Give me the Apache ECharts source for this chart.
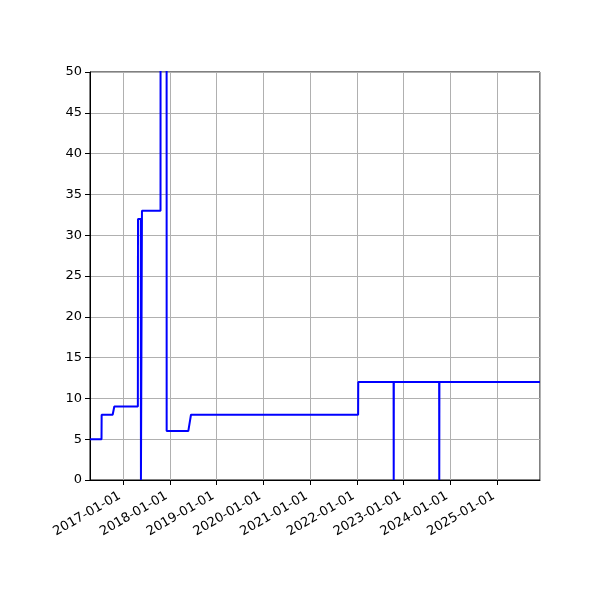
<!DOCTYPE html>
<html><head><meta charset="utf-8">
<script src="https://cdn.jsdelivr.net/npm/echarts@6/dist/echarts.min.js"></script>
<style>html,body{margin:0;padding:0;background:#fff}#c{width:600px;height:600px}</style>
</head><body><div id="c"></div>
<script>
// Sample dates and values (value > 50 is off the top)
const dates = [
  '2016-04-16','2016-07-15','2016-07-16','2016-10-10','2016-10-23',
  '2017-04-25','2017-04-26','2017-05-08','2017-05-18','2017-05-19','2017-05-27',
  '2017-10-19','2017-10-20','2017-12-05','2017-12-06',
  '2018-05-24','2018-06-14',
  '2022-01-10','2022-01-11',
  '2022-10-14','2022-10-15','2022-10-16',
  '2023-10-05','2023-10-06','2023-10-07',
  '2025-12-01'
];
const values = [
  5,5,8,8,9,
  9,32,32,32,0,33,
  33,120,120,6,
  6,8,
  8,12,
  12,0,12,
  12,0,12,
  12
];
const xMin = '2016-04-16', xMax = '2025-12-01';
const yMin = 0, yMax = 50, yStep = 5;

const data = dates.map((d, i) => [d, values[i]]);
const chart = echarts.init(document.getElementById('c'));
const YEAR = 365.25 * 86400000;
const font = 'DejaVu Sans';
chart.setOption({
  animation: false,
  grid: {left: 90, right: 60, top: 72, bottom: 120, show: true, borderColor: '#000', borderWidth: 1, backgroundColor: 'transparent'},
  xAxis: {
    type: 'time', min: xMin, max: xMax,
    minInterval: YEAR, maxInterval: YEAR,
    axisLine: {lineStyle: {color: '#000', width: 1}},
    axisTick: {show: true, length: 5, lineStyle: {color: '#000', width: 1}},
    splitLine: {show: true, lineStyle: {color: '#b0b0b0', width: 1}},
    axisLabel: {
      rotate: 30, color: '#000', fontFamily: font, fontSize: 13, margin: 13,
      padding: [0, 4, 0, 0],
      showMinLabel: false, showMaxLabel: false,
      formatter: function (v) { const d = new Date(v); return d.getFullYear() + '-01-01'; }
    }
  },
  yAxis: {
    type: 'value', min: yMin, max: yMax, interval: yStep,
    axisLine: {show: true, lineStyle: {color: '#000', width: 1}},
    axisTick: {show: true, length: 5, lineStyle: {color: '#000', width: 1}},
    splitLine: {show: true, lineStyle: {color: '#b0b0b0', width: 1}},
    axisLabel: {color: '#000', fontFamily: font, fontSize: 13, margin: 8}
  },
  series: [{
    type: 'line', data: data, showSymbol: false, symbol: 'none', clip: true,
    lineStyle: {color: '#0000ff', width: 2}
  }]
});
</script></body></html>
